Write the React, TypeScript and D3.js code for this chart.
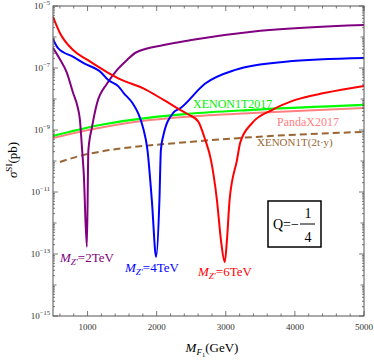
import React from 'react';
import * as d3 from 'd3';

// tick values
const massTicks = [1000, 2000, 3000, 4000, 5000];
const massMinorTicks = [600, 800, 1200, 1400, 1600, 1800, 2200, 2400, 2600, 2800, 3200, 3400, 3600, 3800, 4200, 4400, 4600, 4800];
const exponentTicks = [-5, -7, -9, -11, -13, -15];

// [M_F1 (GeV), log10(sigma / pb)]
const mz2TeV: [number, number][] = [
  [500, -6.35], [600, -6.72], [700, -7.15], [790, -7.8], [850, -8.2], [890, -8.68], [920, -9.6],
  [945, -10.4], [990, -12.77], [1012, -9.65], [1065, -8.9], [1138, -8.13], [1283, -7.5],
  [1428, -7.06], [1572, -6.74], [1700, -6.5], [2100, -6.26], [2500, -6.1], [3500, -5.8], [5000, -5.61],
];
const mz4TeV: [number, number][] = [
  [500, -6.06], [570, -6.35], [800, -6.65], [950, -6.85], [1200, -7.15], [1300, -7.39], [1450, -7.6],
  [1520, -7.8], [1650, -8.13], [1730, -8.45], [1800, -8.9], [1867, -9.65], [1930, -11.26],
  [1993, -13.1], [2040, -11.26], [2061, -9.65], [2094, -9.2], [2239, -8.45], [2341, -8.3],
  [2703, -7.5], [3138, -7.06], [3862, -6.8], [5000, -6.68],
];
const mz6TeV: [number, number][] = [
  [500, -5.35], [600, -5.87], [790, -6.42], [1000, -6.74], [1280, -7.13], [1500, -7.39], [1800, -7.65],
  [2100, -8.03], [2340, -8.35], [2460, -8.5], [2600, -8.72], [2700, -9.3], [2786, -9.97],
  [2872, -11.26], [2930, -12.55], [2985, -13.26], [3017, -12.55], [3055, -11.26], [3162, -9.97],
  [3210, -9.4], [3384, -8.77], [3674, -8.35], [4007, -8.03], [4442, -7.8], [5000, -7.58],
];
const xenon1t2017: [number, number][] = [
  [500, -9.19], [1180, -8.84], [1900, -8.6], [2450, -8.48], [3380, -8.35], [5000, -8.19],
];
const pandax2017: [number, number][] = [
  [500, -9.26], [1180, -8.93], [1900, -8.68], [2450, -8.57], [3380, -8.45], [5000, -8.29],
];
const xenon1t2ty: [number, number][] = [
  [600, -10.03], [935, -9.81], [1180, -9.7], [2450, -9.39], [3380, -9.23], [5000, -9.06],
];

const W = 374;
const H = 362;
const L = 53, R = 364, T = 6, B = 316;
const serif = '"Liberation Serif", "DejaVu Serif", serif';

export default function App() {
  const x = d3.scaleLinear().domain([500, 5000]).range([L, R]);
  const y = d3.scaleLog().domain([1e-15, 1e-5]).range([B, T]);
  const line = d3.line<[number, number]>()
    .x(d => x(d[0]))
    .y(d => y(Math.pow(10, d[1])))
    .curve(d3.curveMonotoneX);

  const yMinor: { v: number; len: number }[] = [];
  for (let n = -15; n < -5; n++) {
    for (let k = 2; k <= 9; k++) yMinor.push({ v: k * Math.pow(10, n), len: 2 });
    if (n % 2 === 0) yMinor.push({ v: Math.pow(10, n), len: 3.5 });
  }

  const frame = '#555';

  const mzLabel = (tx: number, ty: number, val: string, color: string) => (
    <text x={tx} y={ty} fill={color} fontFamily={serif} fontSize={13}>
      <tspan fontStyle="italic">M</tspan>
      <tspan fontStyle="italic" fontSize={9} dy={3}>Z'</tspan>
      <tspan dy={-3}>={val}TeV</tspan>
    </text>
  );

  return (
    <svg width={W} height={H} style={{ position: 'absolute', left: 0, top: 0 }}>
      <defs>
        <clipPath id="plot">
          <rect x={L} y={T} width={R - L} height={B - T} />
        </clipPath>
      </defs>
      <rect x={0} y={0} width={W} height={H} fill="#fff" />

      <g clipPath="url(#plot)" fill="none">
        <path d={line(xenon1t2ty) ?? ''} stroke="#996633" strokeWidth={2} strokeDasharray="7,4" />
        <path d={line(pandax2017) ?? ''} stroke="#ff8080" strokeWidth={2} />
        <path d={line(xenon1t2017) ?? ''} stroke="#00ff00" strokeWidth={2.2} />
        <path d={line(mz2TeV) ?? ''} stroke="#800080" strokeWidth={2} />
        <path d={line(mz4TeV) ?? ''} stroke="#0000ff" strokeWidth={2} />
        <path d={line(mz6TeV) ?? ''} stroke="#ff0000" strokeWidth={2} />
      </g>

      {/* frame and ticks */}
      <rect x={L} y={T} width={R - L} height={B - T} fill="none" stroke={frame} strokeWidth={1} />
      <g stroke={frame} strokeWidth={0.8}>
        {massTicks.map(m => (
          <g key={'M' + m}>
            <line x1={x(m)} x2={x(m)} y1={B} y2={B - 5} />
            <line x1={x(m)} x2={x(m)} y1={T} y2={T + 5} />
          </g>
        ))}
        {massMinorTicks.map(m => (
          <g key={'m' + m}>
            <line x1={x(m)} x2={x(m)} y1={B} y2={B - 2.5} />
            <line x1={x(m)} x2={x(m)} y1={T} y2={T + 2.5} />
          </g>
        ))}
        {exponentTicks.map(e => (
          <g key={'E' + e}>
            <line x1={L} x2={L + 5} y1={y(Math.pow(10, e))} y2={y(Math.pow(10, e))} />
            <line x1={R} x2={R - 5} y1={y(Math.pow(10, e))} y2={y(Math.pow(10, e))} />
          </g>
        ))}
        {yMinor.map((t, i) => (
          <g key={'e' + i}>
            <line x1={L} x2={L + t.len} y1={y(t.v)} y2={y(t.v)} />
            <line x1={R} x2={R - t.len} y1={y(t.v)} y2={y(t.v)} />
          </g>
        ))}
      </g>

      <g fontFamily={serif} fontSize={9} fill="#333">
        {massTicks.map(m => (
          <text key={m} x={x(m)} y={B + 14} textAnchor="middle">{m}</text>
        ))}
        {exponentTicks.map(e => (
          <text key={e} x={L - 3} y={y(Math.pow(10, e)) + 3} textAnchor="end">
            10<tspan fontSize={6.5} dy={-4}>{'\u2212' + Math.abs(e)}</tspan>
          </text>
        ))}
      </g>

      {/* axis titles */}
      <text x={212} y={352} textAnchor="middle" fontFamily={serif} fontSize={13} fill="#000">
        <tspan fontStyle="italic">M</tspan>
        <tspan fontStyle="italic" fontSize={9} dy={3}>F</tspan>
        <tspan fontSize={6.5} dy={2}>1</tspan>
        <tspan dy={-5}>(GeV)</tspan>
      </text>
      <text transform="translate(17,160) rotate(-90)" textAnchor="middle" fontFamily={serif} fontSize={13} fill="#000">
        <tspan fontStyle="italic">σ</tspan>
        <tspan fontSize={9} dy={-5}>SI</tspan>
        <tspan dy={5}>(pb)</tspan>
      </text>

      {/* bound labels */}
      <text x={193} y={108} fill="#00ee00" fontFamily={serif} fontSize={12}>XENON1T2017</text>
      <text x={277} y={126} fill="#ff8080" fontFamily={serif} fontSize={12}>PandaX2017</text>
      <text x={257} y={146} fill="#996633" fontFamily={serif} fontSize={11}>XENON1T(2t·y)</text>

      {mzLabel(60, 262, '2', '#800080')}
      {mzLabel(125, 272, '4', '#0000ff')}
      {mzLabel(198, 276, '6', '#ff0000')}

      {/* charge box */}
      <rect x={268} y={201} width={53} height={46} fill="#fff" stroke="#000" strokeWidth={1.5} />
      <text x={273} y={229} fontFamily={serif} fontSize={14} fill="#000">Q=−</text>
      <text x={308} y={218} textAnchor="middle" fontFamily={serif} fontSize={14} fill="#000">1</text>
      <line x1={300} x2={315} y1={224} y2={224} stroke="#000" strokeWidth={1} />
      <text x={308} y={242} textAnchor="middle" fontFamily={serif} fontSize={14} fill="#000">4</text>
    </svg>
  );
}
